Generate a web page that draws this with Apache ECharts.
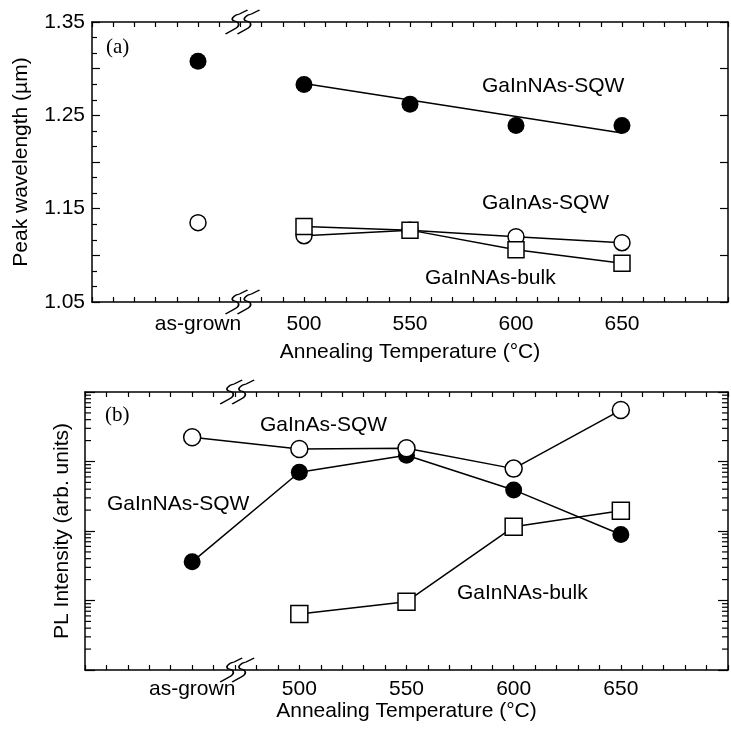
<!DOCTYPE html>
<html>
<head>
<meta charset="utf-8">
<script src="https://cdn.jsdelivr.net/npm/echarts@6/dist/echarts.min.js"></script>
<style>
  html, body { margin: 0; padding: 0; background: #fff; }
  #chart { width: 731px; height: 735px; }
</style>
</head>
<body>
<div id="chart"></div>
<script>
// x positions: "as-grown" is drawn at 450 on the temperature axis
const xPos = [450, 500, 550, 600, 650];
const xTickLabels = ['as-grown', '500', '550', '600', '650'];

// (a) peak wavelength (um)
const wlGaInNAsSQW = [1.308, 1.283, 1.262, 1.239, 1.239];
const wlFitX = [500, 650];
const wlFitY = [1.284, 1.231];
const wlGaInAsSQW = [1.135, 1.121, 1.127, 1.120, 1.1135];
const wlGaInNAsBulk = [null, 1.131, 1.127, 1.106, 1.0915];
const wlTickLabels = ['1.05', '1.15', '1.25', '1.35'];

// (b) PL intensity (arb. units, log)
const plGaInAsSQW = [2230, 1510, 1550, 790, 5500];
const plGaInNAsSQW = [36, 700, 1230, 390, 89];
const plGaInNAsBulk = [null, 6.4, 9.6, 115, 195];
const plDecades = [1, 10, 100, 1000];
const plMinorSteps = [2, 3, 4, 5, 6, 7, 8, 9];

const FONT = '"Liberation Sans", Arial, sans-serif';
const SERIF = '"Liberation Serif", "Times New Roman", serif';

const pairs = (arr) => xPos.map((x, i) => [x, arr[i]]).filter(p => p[1] != null);
const minorVals = [];
plDecades.forEach(d => plMinorSteps.forEach(s => minorVals.push([400, d * s])));

// axis break sign: two slanted S strokes
const breakPath = 'path://M0,24 L9,19 C15,16 14,12 9,11 C4,10 8,5 14,4 L22,0 ' +
  'M12,24 L21,19 C27,16 26,12 21,11 C16,10 20,5 26,4 L34,0';
const breakMark = (y) => ({
  silent: true,
  symbol: breakPath,
  symbolSize: [34, 24],
  itemStyle: { color: 'rgba(0,0,0,0)', borderColor: '#000', borderWidth: 1.5, opacity: 1 },
  label: { show: false },
  data: [{ coord: [471, y[0]] }, { coord: [471, y[1]] }]
});

const lineStyle = { color: '#000', width: 1.5, opacity: 1 };
const openItem = { color: '#fff', borderColor: '#000', borderWidth: 1.5, opacity: 1 };
const filledItem = { color: '#000', opacity: 1 };

const xAxisBase = (grid, pos, labels) => ({
  type: 'value', gridIndex: grid, position: pos,
  min: 400, max: 700, interval: 10,
  axisLine: { show: true, onZero: false, lineStyle: { color: '#000', width: 1.5 } },
  axisTick: { show: true, inside: true, length: 5, lineStyle: { color: '#000', width: 1.2 } },
  axisLabel: {
    show: labels, color: '#000', fontSize: 21, fontFamily: FONT, margin: grid === 0 ? 12 : 9,
    formatter: v => { const i = xPos.indexOf(v); return i >= 0 ? xTickLabels[i] : ''; }
  },
  splitLine: { show: false }
});

const chart = echarts.init(document.getElementById('chart'));

const option = {
  animation: false,
  backgroundColor: '#fff',
  grid: [
    { left: 92, top: 22, width: 645, height: 280 },
    { left: 85, top: 392, width: 645, height: 278 }
  ],
  xAxis: [
    Object.assign(xAxisBase(0, 'bottom', true), {
      name: 'Annealing Temperature (°C)', nameLocation: 'middle', nameGap: 40,
      nameTextStyle: { color: '#000', fontSize: 21, fontFamily: FONT }
    }),
    xAxisBase(0, 'top', false),
    Object.assign(xAxisBase(1, 'bottom', true), {
      name: 'Annealing Temperature (°C)', nameLocation: 'middle', nameGap: 31,
      nameTextStyle: { color: '#000', fontSize: 21, fontFamily: FONT }
    }),
    xAxisBase(1, 'top', false)
  ],
  yAxis: [
    {
      type: 'value', gridIndex: 0, position: 'left',
      min: 1.05, max: 1.35, interval: 0.05,
      name: 'Peak wavelength (µm)', nameLocation: 'middle', nameGap: 60,
      nameTextStyle: { color: '#000', fontSize: 21, fontFamily: FONT },
      axisLine: { show: true, lineStyle: { color: '#000', width: 1.5 } },
      axisTick: { show: true, inside: true, length: 8, lineStyle: { color: '#000', width: 1.2 } },
      minorTick: { show: true, splitNumber: 3, length: 5, lineStyle: { color: '#000', width: 1.2 } },
      axisLabel: {
        color: '#000', fontSize: 21, fontFamily: FONT, margin: 7,
        formatter: v => { const s = v.toFixed(2); return wlTickLabels.includes(s) ? s : ''; }
      },
      splitLine: { show: false }
    },
    {
      type: 'value', gridIndex: 0, position: 'right',
      min: 1.05, max: 1.35, interval: 0.05,
      axisLine: { show: true, lineStyle: { color: '#000', width: 1.5 } },
      axisTick: { show: true, inside: true, length: 8, lineStyle: { color: '#000', width: 1.2 } },
      axisLabel: { show: false },
      splitLine: { show: false }
    },
    {
      type: 'log', logBase: 10, gridIndex: 1, position: 'left',
      min: 1, max: 10000,
      name: 'PL Intensity (arb. units)', nameLocation: 'middle', nameGap: 12,
      nameTextStyle: { color: '#000', fontSize: 21, fontFamily: FONT },
      axisLine: { show: true, lineStyle: { color: '#000', width: 1.5 } },
      axisTick: { show: true, inside: true, length: 10, lineStyle: { color: '#000', width: 1.2 } },
      axisLabel: { show: false },
      splitLine: { show: false }
    },
    {
      type: 'log', logBase: 10, gridIndex: 1, position: 'right',
      min: 1, max: 10000,
      axisLine: { show: true, lineStyle: { color: '#000', width: 1.5 } },
      axisTick: { show: true, inside: true, length: 10, lineStyle: { color: '#000', width: 1.2 } },
      axisLabel: { show: false },
      splitLine: { show: false }
    }
  ],
  series: [
    // ---- (a) ----
    {
      name: 'GaInNAs-SQW fit', type: 'line', xAxisIndex: 0, yAxisIndex: 0,
      data: wlFitX.map((x, i) => [x, wlFitY[i]]),
      showSymbol: false, lineStyle,
      markPoint: breakMark([1.35, 1.05])
    },
    {
      name: 'GaInNAs-SQW', type: 'scatter', xAxisIndex: 0, yAxisIndex: 0,
      data: pairs(wlGaInNAsSQW), symbol: 'circle', symbolSize: 17, itemStyle: filledItem
    },
    {
      name: 'GaInAs-SQW as-grown', type: 'scatter', xAxisIndex: 0, yAxisIndex: 0,
      data: pairs(wlGaInAsSQW).slice(0, 1), symbol: 'circle', symbolSize: 16, itemStyle: openItem
    },
    {
      name: 'GaInAs-SQW', type: 'line', xAxisIndex: 0, yAxisIndex: 0,
      data: pairs(wlGaInAsSQW).slice(1), symbol: 'circle', symbolSize: 16,
      itemStyle: openItem, lineStyle
    },
    {
      name: 'GaInNAs-bulk', type: 'line', xAxisIndex: 0, yAxisIndex: 0,
      data: pairs(wlGaInNAsBulk), symbol: 'rect', symbolSize: 16,
      itemStyle: openItem, lineStyle
    },
    // ---- (b) ----
    {
      name: 'log minor ticks', type: 'custom', xAxisIndex: 2, yAxisIndex: 2,
      data: minorVals, clip: false, silent: true,
      renderItem: (params, api) => {
        const v = api.value(1);
        const pl = api.coord([400, v]);
        const pr = api.coord([700, v]);
        const st = { stroke: '#000', lineWidth: 1.2 };
        return {
          type: 'group',
          children: [
            { type: 'line', shape: { x1: pl[0], y1: pl[1], x2: pl[0] + 6, y2: pl[1] }, style: st },
            { type: 'line', shape: { x1: pr[0] - 6, y1: pr[1], x2: pr[0], y2: pr[1] }, style: st }
          ]
        };
      }
    },
    {
      name: 'GaInNAs-SQW PL', type: 'line', xAxisIndex: 2, yAxisIndex: 2,
      data: pairs(plGaInNAsSQW), symbol: 'circle', symbolSize: 17,
      itemStyle: filledItem, lineStyle
    },
    {
      name: 'GaInAs-SQW PL', type: 'line', xAxisIndex: 2, yAxisIndex: 2,
      data: pairs(plGaInAsSQW), symbol: 'circle', symbolSize: 17,
      itemStyle: openItem, lineStyle
    },
    {
      name: 'GaInNAs-bulk PL', type: 'line', xAxisIndex: 2, yAxisIndex: 2,
      data: pairs(plGaInNAsBulk), symbol: 'rect', symbolSize: 17,
      itemStyle: openItem, lineStyle,
      markPoint: breakMark([10000, 1])
    }
  ],
  graphic: [
    { type: 'text', x: 106, y: 47, style: { text: '(a)', font: '21px ' + SERIF, fill: '#000', verticalAlign: 'middle' } },
    { type: 'text', x: 482, y: 86, style: { text: 'GaInNAs-SQW', font: '21px ' + FONT, fill: '#000', verticalAlign: 'middle' } },
    { type: 'text', x: 482, y: 203, style: { text: 'GaInAs-SQW', font: '21px ' + FONT, fill: '#000', verticalAlign: 'middle' } },
    { type: 'text', x: 425, y: 278, style: { text: 'GaInNAs-bulk', font: '21px ' + FONT, fill: '#000', verticalAlign: 'middle' } },
    { type: 'text', x: 105, y: 415, style: { text: '(b)', font: '21px ' + SERIF, fill: '#000', verticalAlign: 'middle' } },
    { type: 'text', x: 260, y: 425, style: { text: 'GaInAs-SQW', font: '21px ' + FONT, fill: '#000', verticalAlign: 'middle' } },
    { type: 'text', x: 107, y: 504, style: { text: 'GaInNAs-SQW', font: '21px ' + FONT, fill: '#000', verticalAlign: 'middle' } },
    { type: 'text', x: 457, y: 593, style: { text: 'GaInNAs-bulk', font: '21px ' + FONT, fill: '#000', verticalAlign: 'middle' } }
  ]
};

chart.setOption(option);
</script>
</body>
</html>
